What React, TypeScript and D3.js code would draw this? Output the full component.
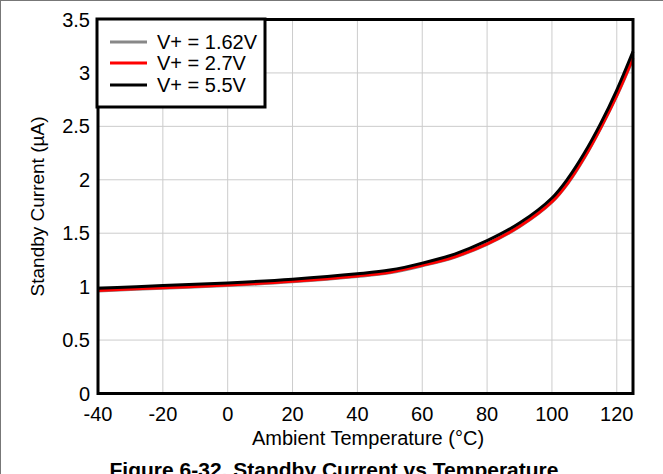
import React from "react";
import * as d3 from "d3";

const temps = [-40, -20, 0, 20, 40, 50, 60, 70, 80, 90, 100, 105, 110, 115, 120, 125];
const v162 = [0.96, 0.985, 1.01, 1.045, 1.095, 1.13, 1.195, 1.275, 1.395, 1.56, 1.79, 1.97, 2.205, 2.48, 2.785, 3.13];
const v27 = [0.965, 0.99, 1.015, 1.05, 1.1, 1.135, 1.2, 1.28, 1.4, 1.565, 1.795, 1.975, 2.21, 2.485, 2.79, 3.14];
const v55 = [0.985, 1.01, 1.035, 1.07, 1.12, 1.155, 1.22, 1.305, 1.43, 1.595, 1.83, 2.015, 2.25, 2.525, 2.84, 3.2];

const xTicks = [-40, -20, 0, 20, 40, 60, 80, 100, 120];
const yTicks = [0, 0.5, 1, 1.5, 2, 2.5, 3, 3.5];
const yTickLabels = ["0", "0.5", "1", "1.5", "2", "2.5", "3", "3.5"];

const seriesNames = ["V+ = 1.62V", "V+ = 2.7V", "V+ = 5.5V"];
const seriesColors = ["#888888", "#ff0000", "#000000"];
const seriesData = [v162, v27, v55];

const FONT = "'Liberation Sans', Arial, Helvetica, sans-serif";

export default function App() {
  const W = 663;
  const H = 474;
  const left = 98, right = 633, top = 19.5, bottom = 393.5;
  const x = d3.scaleLinear().domain([-40, 125]).range([left, right]);
  const y = d3.scaleLinear().domain([0, 3.5]).range([bottom, top]);

  const line = d3
    .line<[number, number]>()
    .x((d) => x(d[0]))
    .y((d) => y(d[1]))
    .curve(d3.curveCatmullRom.alpha(0.5));

  const legendX = 97, legendY = 19, legendW = 168, legendH = 88;
  const legendRows = [42, 63, 85];

  return (
    <svg
      width={W}
      height={H}
      style={{ position: "absolute", left: 0, top: 0, display: "block", background: "#fff" }}
      fontFamily={FONT}
    >
      <rect x={0} y={0} width={W} height={H} fill="#fff" />
      <line x1={0} y1={0.5} x2={W} y2={0.5} stroke="#777" strokeWidth={1} />
      <line x1={0.5} y1={0} x2={0.5} y2={H} stroke="#777" strokeWidth={1} />

      {/* grid */}
      {xTicks.map((t) => (
        <line key={"gx" + t} x1={x(t)} x2={x(t)} y1={top} y2={bottom} stroke="#cccccc" strokeWidth={1} />
      ))}
      {yTicks.map((t) => (
        <line key={"gy" + t} x1={left} x2={right} y1={y(t)} y2={y(t)} stroke="#cccccc" strokeWidth={1} />
      ))}

      {/* series */}
      {seriesData.map((vals, i) => (
        <path
          key={"s" + i}
          d={line(temps.map((t, j) => [t, vals[j]] as [number, number])) || ""}
          fill="none"
          stroke={seriesColors[i]}
          strokeWidth={3}
          strokeLinejoin="round"
        />
      ))}

      {/* frame */}
      <rect x={left} y={top} width={right - left} height={bottom - top} fill="none" stroke="#000" strokeWidth={3} />

      {/* legend */}
      <rect x={legendX} y={legendY} width={legendW} height={legendH} fill="#fff" stroke="#000" strokeWidth={3} />
      {seriesNames.map((n, i) => (
        <g key={"l" + i}>
          <line x1={110} x2={147} y1={legendRows[i]} y2={legendRows[i]} stroke={seriesColors[i]} strokeWidth={3} />
          <text x={157} y={legendRows[i]} dy="0.35em" fontSize={20} fill="#000">
            {n}
          </text>
        </g>
      ))}

      {/* y tick labels */}
      {yTicks.map((t, i) => (
        <text key={"yl" + t} x={90} y={y(t)} dy="0.35em" textAnchor="end" fontSize={20} fill="#000">
          {yTickLabels[i]}
        </text>
      ))}
      {/* x tick labels */}
      {xTicks.map((t) => (
        <text key={"xl" + t} x={x(t)} y={421} textAnchor="middle" fontSize={20} fill="#000">
          {t}
        </text>
      ))}

      <text x={368} y={445} textAnchor="middle" fontSize={20} fill="#000">
        Ambient Temperature (°C)
      </text>
      <text
        transform={`translate(44, ${(top + bottom) / 2}) rotate(-90)`}
        textAnchor="middle"
        fontSize={19}
        fill="#000"
      >
        Standby Current (µA)
      </text>
      <text x={334} y={477} textAnchor="middle" fontSize={21} fontWeight="bold" fill="#000">
        Figure 6-32. Standby Current vs Temperature
      </text>
    </svg>
  );
}
